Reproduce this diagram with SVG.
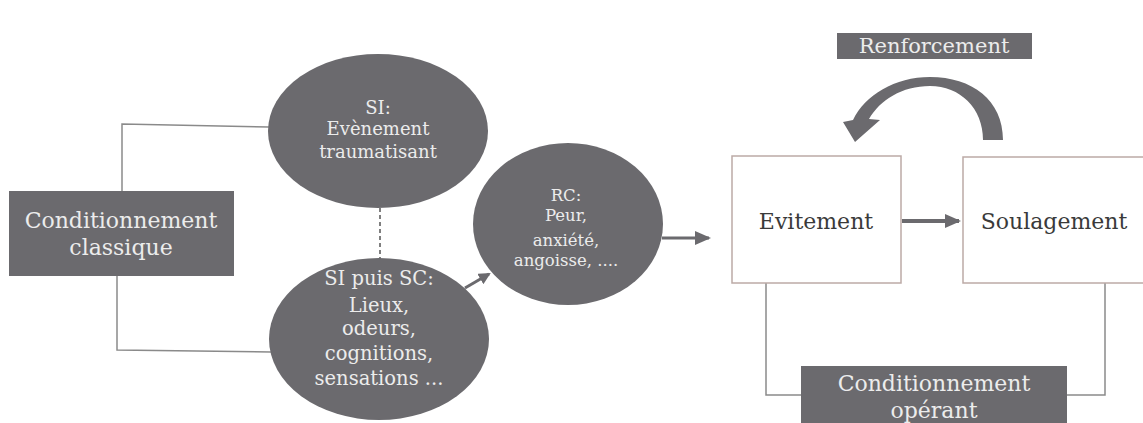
<svg xmlns="http://www.w3.org/2000/svg" width="1143" height="423" viewBox="0 0 1143 423">
<defs>
<style>
.dark{fill:#6b6a6e;}
.lt{fill:#ececec;font-family:"DejaVu Serif","Liberation Serif",serif;text-anchor:middle;}
.dk{fill:#3a3a3a;font-family:"DejaVu Serif","Liberation Serif",serif;text-anchor:middle;}
.wbox{fill:#ffffff;stroke:#bcaaa6;stroke-width:1.5;}
.conn{fill:none;stroke:#8a8a8a;stroke-width:1.5;}
.arr{fill:none;stroke:#6b6a6e;}
</style>
<marker id="ah" markerUnits="userSpaceOnUse" markerWidth="16" markerHeight="14" refX="14" refY="7" orient="auto">
<path d="M0,0 L16,7 L0,14 Z" fill="#6b6a6e"/>
</marker>
<marker id="ahs" markerUnits="userSpaceOnUse" markerWidth="12" markerHeight="12" refX="10" refY="6" orient="auto">
<path d="M0,0 L12,6 L0,12 Z" fill="#6b6a6e"/>
</marker>
</defs>
<rect width="1143" height="423" fill="#ffffff"/>

<g id="connectors">
<path class="conn" d="M269 127 L122 124 L122 191"/>
<path class="conn" d="M117 276 L117 350 L271 352"/>
<path d="M380 208 L380 260" fill="none" stroke="#555" stroke-width="1.5" stroke-dasharray="4 3"/>
<path class="arr" d="M465 288 L489 274" stroke-width="3" marker-end="url(#ahs)"/>
<path class="arr" d="M662 238 L709 238" stroke-width="3" marker-end="url(#ah)"/>
<path class="arr" d="M902 221 L959 221" stroke-width="4" marker-end="url(#ah)"/>
<path class="conn" d="M766 283 L766 395 L801 395"/>
<path class="conn" d="M1105 283 L1105 395 L1067 395"/>
<path class="dark" d="M983 140 L1003 140 C1003 100 972 77 930 77 C895 77 865 95 853 120 L843 122 L855 142 L880 120 L869 119 C880 100 902 86 930 86 C960 86 983 108 983 140 Z"/>
</g>

<g id="node-classique">
<rect class="dark" x="9" y="191" width="225" height="85"/>
<text class="lt" x="121" y="228" font-size="22">Conditionnement</text>
<text class="lt" x="121" y="255" font-size="22">classique</text>
</g>

<g id="node-si">
<ellipse class="dark" cx="378" cy="131" rx="110" ry="77"/>
<text class="lt" x="378" y="114" font-size="18">SI:</text>
<text class="lt" x="378" y="135" font-size="18">Evènement</text>
<text class="lt" x="378" y="158" font-size="18">traumatisant</text>
</g>

<g id="node-sisc">
<ellipse class="dark" cx="379" cy="339" rx="110" ry="81"/>
<text class="lt" x="379" y="285" font-size="19.5">SI puis SC:</text>
<text class="lt" x="379" y="312" font-size="19.5">Lieux,</text>
<text class="lt" x="379" y="335" font-size="19.5">odeurs,</text>
<text class="lt" x="379" y="360" font-size="19.5">cognitions,</text>
<text class="lt" x="379" y="385" font-size="19.5">sensations ...</text>
</g>

<g id="node-rc">
<ellipse class="dark" cx="568" cy="224" rx="95" ry="81"/>
<text class="lt" x="566" y="201" font-size="16.5">RC:</text>
<text class="lt" x="566" y="221" font-size="16.5">Peur,</text>
<text class="lt" x="566" y="246" font-size="16.5">anxiété,</text>
<text class="lt" x="566" y="266" font-size="16.5">angoisse, ....</text>
</g>

<g id="node-renforcement">
<rect class="dark" x="837" y="33" width="195" height="26"/>
<text class="lt" x="934" y="53" font-size="21">Renforcement</text>
</g>

<g id="node-evitement">
<rect class="wbox" x="732" y="156" width="169" height="127"/>
<text class="dk" x="816" y="229" font-size="22">Evitement</text>
</g>

<g id="node-soulagement">
<rect class="wbox" x="963" y="157" width="190" height="126"/>
<text class="dk" x="1054" y="229" font-size="22">Soulagement</text>
</g>

<g id="node-operant">
<rect class="dark" x="801" y="366" width="266" height="62"/>
<text class="lt" x="934" y="391" font-size="22">Conditionnement</text>
<text class="lt" x="934" y="418" font-size="22">opérant</text>
</g>
</svg>
